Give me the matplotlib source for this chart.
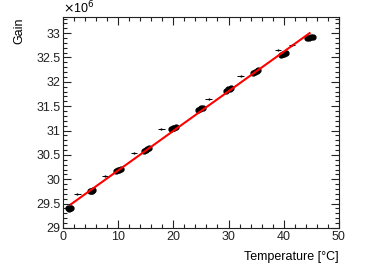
import numpy as np
import matplotlib
matplotlib.use('Agg')
import matplotlib.pyplot as plt
from matplotlib.ticker import MultipleLocator, FuncFormatter

plt.rcParams['font.family'] = ['Liberation Sans', 'DejaVu Sans']

# ------------------------------------------------------------------------------
# measured points (gain in units of 1e6)
temp = [0.9, 1.1, 1.3, 1.5,
        4.8, 5.0, 5.2, 5.4,
        9.6, 9.9, 10.2, 10.5,
        14.7, 15.0, 15.2, 15.5,
        19.6, 19.9, 20.2, 20.4,
        24.5, 24.8, 25.1, 25.4,
        29.6, 29.9, 30.2, 30.5,
        34.5, 34.8, 35.1, 35.4,
        39.5, 39.8, 40.1, 40.4,
        44.2, 44.6, 45.0, 45.4]
gain = [29.40, 29.39, 29.41, 29.40,
        29.75, 29.76, 29.75, 29.77,
        30.17, 30.19, 30.20, 30.22,
        30.58, 30.61, 30.63, 30.64,
        31.03, 31.05, 31.06, 31.07,
        31.43, 31.45, 31.46, 31.47,
        31.82, 31.85, 31.86, 31.88,
        32.19, 32.21, 32.23, 32.25,
        32.56, 32.57, 32.58, 32.60,
        32.89, 32.91, 32.92, 32.93]

# single points between the temperature steps
temp_ramp = [2.6, 7.6, 12.9, 17.8, 26.4, 32.2, 39.0, 41.5]
gain_ramp = [29.69, 30.06, 30.53, 31.03, 31.64, 32.13, 32.65, 32.76]

# linear fit
fit_intercept = 29.37
fit_slope = 0.0812
fit_range = (1.45, 44.7)

# ------------------------------------------------------------------------------
fig = plt.figure(figsize=(3.82, 2.75), dpi=100)
ax = fig.add_axes([0.165, 0.171, 0.722, 0.767])

ax.errorbar(temp, gain, xerr=0.25, yerr=0.025, fmt='o', color='black',
            markersize=3.5, elinewidth=0.8, capsize=0, zorder=3)
ax.errorbar(temp_ramp, gain_ramp, xerr=0.6, yerr=0.0, fmt='.', color='black',
            markersize=1.2, elinewidth=0.7, capsize=0, zorder=3)

xf = np.linspace(fit_range[0], fit_range[1], 2)
ax.plot(xf, fit_intercept + fit_slope * xf, color='#ff0000', lw=1.5, zorder=4)

ax.set_xlim(0, 50)
ax.set_ylim(29, 33.33)
ax.xaxis.set_major_locator(MultipleLocator(10))
ax.xaxis.set_minor_locator(MultipleLocator(2))
ax.yaxis.set_major_locator(MultipleLocator(0.5))
ax.yaxis.set_minor_locator(MultipleLocator(0.1))
ax.yaxis.set_major_formatter(FuncFormatter(lambda v, p: '%g' % v))

ax.tick_params(which='both', direction='in', top=True, right=True,
               labelsize=9, width=0.8, colors='#222222', pad=2)
ax.tick_params(which='major', length=6)
ax.tick_params(which='minor', length=3)
for s in ax.spines.values():
    s.set_linewidth(0.8)
    s.set_color('#222222')

ax.set_xlabel('Temperature [°C]', fontsize=9, loc='right', labelpad=6)
ax.set_ylabel('Gain', fontsize=9, loc='top', labelpad=8)
ax.text(0.0, 1.005, r'$\times$10$^{6}$', transform=ax.transAxes,
        fontsize=9, ha='left', va='bottom')

fig.savefig('out.png', dpi=100)
